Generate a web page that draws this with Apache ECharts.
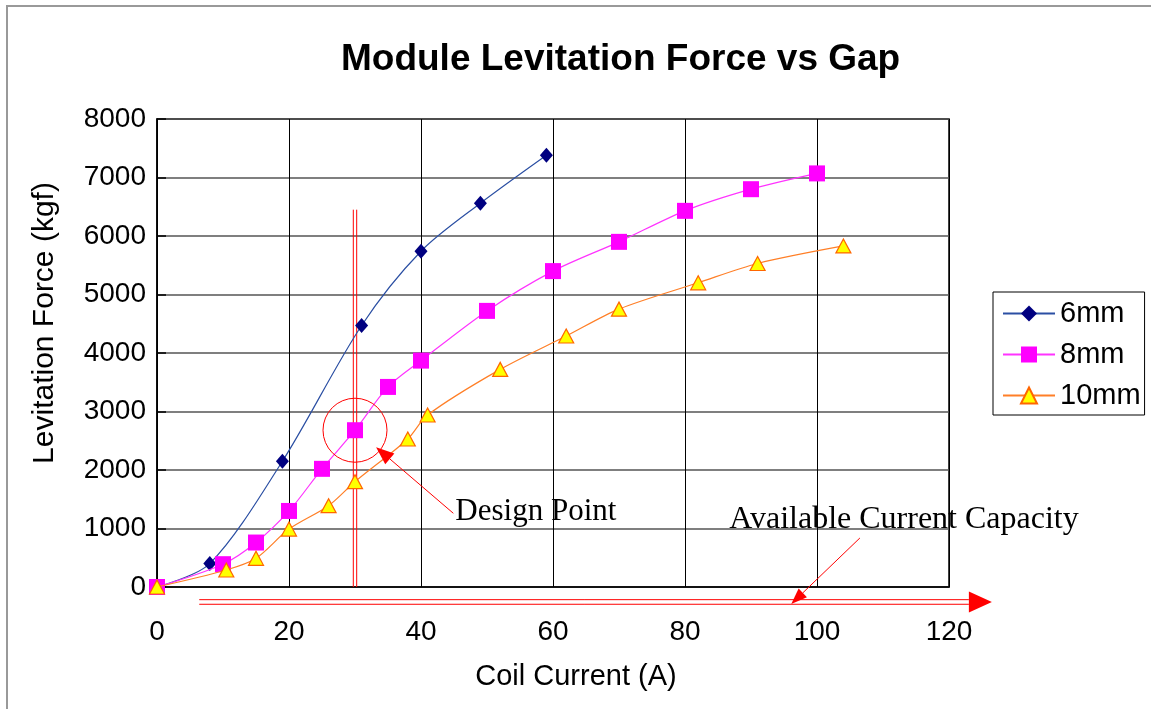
<!DOCTYPE html>
<html>
<head>
<meta charset="utf-8">
<script src="https://cdn.jsdelivr.net/npm/echarts@6/dist/echarts.min.js"></script>
<style>
html,body{margin:0;padding:0;background:#fff;}
#chart{width:1151px;height:709px;}
</style>
</head>
<body>
<div id="chart"></div>
<script>
// ---- data ----
const seriesNames = ['6mm', '8mm', '10mm'];
const current6 = [0, 8, 19, 31, 40, 49, 59];
const force6   = [0, 400, 2150, 4470, 5740, 6560, 7380];
const current8 = [0, 10, 15, 20, 25, 30, 35, 40, 50, 60, 70, 80, 90, 100];
const force8   = [0, 390, 760, 1300, 2020, 2680, 3420, 3870, 4720, 5400, 5900, 6430, 6800, 7070];
const current10 = [0, 10.5, 15, 20, 26, 30, 38, 41, 52, 62, 70, 82, 91, 104];
const force10   = [0, 290, 490, 990, 1390, 1800, 2530, 2940, 3720, 4290, 4750, 5200, 5530, 5830];
const xTicks = [0, 20, 40, 60, 80, 100, 120];
const yTicks = [0, 1000, 2000, 3000, 4000, 5000, 6000, 7000, 8000];
// annotations (data units)
const designPoint = [30, 2680];
const designLineTop = 6450;
const designArrowFrom = [44.9, 1260];
const designArrowTo = [33.2, 2390];
const designLabelPos = [45.2, 1282];
const capacityLineY = -256;
const capacityLineX = [6.4, 126.5];
const capacityArrowFrom = [106.5, 838];
const capacityArrowTo = [96.1, -290];
const capacityLabelPos = [86.7, 1145];

const pairs = (xs, ys) => xs.map((x, i) => [x, ys[i]]);

const chart = echarts.init(document.getElementById('chart'));
const AX = 'Liberation Sans, Arial, sans-serif';
const SERIF = 'Liberation Serif, Times New Roman, serif';
const option = {
  animation: false,
  backgroundColor: '#fff',
  title: {
    text: 'Module Levitation Force vs Gap',
    left: 336, top: 36,
    textStyle: { fontFamily: AX, fontSize: 37, fontWeight: 'bold', color: '#000' }
  },
  grid: { left: 157, right: 202, top: 119, bottom: 122, containLabel: false, outerBoundsMode: 'none',
          show: true, borderColor: '#000', borderWidth: 1.5 },
  legend: {
    orient: 'vertical', left: 993, top: 292,
    padding: [7, 4, 5, 9],
    borderColor: '#000', borderWidth: 1,
    itemWidth: 52, itemHeight: 20, itemGap: 12,
    textStyle: { fontFamily: AX, fontSize: 29, color: '#000', lineHeight: 28 },
    data: seriesNames
  },
  xAxis: {
    type: 'value', min: xTicks[0], max: xTicks[xTicks.length - 1], interval: 20,
    name: 'Coil Current (A)', nameLocation: 'middle', nameGap: 75,
    nameTextStyle: { fontFamily: AX, fontSize: 29, color: '#000', padding: [0, 0, 0, 46] },
    axisLine: { show: true, lineStyle: { color: '#000', width: 1.5 } },
    axisTick: { show: false },
    axisLabel: { margin: 31, fontFamily: AX, fontSize: 28, color: '#000' },
    splitLine: { show: true, lineStyle: { color: '#000', width: 1 } }
  },
  yAxis: {
    type: 'value', min: yTicks[0], max: yTicks[yTicks.length - 1], interval: 1000,
    name: 'Levitation Force (kgf)', nameLocation: 'middle', nameGap: 97,
    nameTextStyle: { fontFamily: AX, fontSize: 30, color: '#000', padding: [0, 0, 0, 60] },
    axisLine: { show: true, lineStyle: { color: '#000', width: 1.5 } },
    axisTick: { show: true, inside: true, length: 9, lineStyle: { color: '#000', width: 1.5 } },
    axisLabel: { margin: 11, fontFamily: AX, fontSize: 28, color: '#000', formatter: v => String(v) },
    splitLine: { show: true, lineStyle: { color: '#555', width: 1.5 } }
  },
  series: [
    {
      name: seriesNames[0], type: 'line', data: pairs(current6, force6), smooth: 0.3,
      symbol: 'diamond', symbolSize: [13, 15],
      itemStyle: { color: '#000080' },
      lineStyle: { color: '#2b4fa3', width: 1.2 }, z: 3
    },
    {
      name: seriesNames[1], type: 'line', data: pairs(current8, force8), smooth: 0.3,
      symbol: 'rect', symbolSize: 16,
      itemStyle: { color: '#ff00ff' },
      lineStyle: { color: '#ff33ff', width: 1.2 }, z: 4
    },
    {
      name: seriesNames[2], type: 'line', data: pairs(current10, force10), smooth: 0.3,
      symbol: 'triangle', symbolSize: [15, 14],
      itemStyle: { color: '#ffff00', borderColor: '#ff6600', borderWidth: 1.2 },
      lineStyle: { color: '#ff7f27', width: 1.2 }, z: 5
    }
  ]
};
chart.setOption(option);

function px(p) { return chart.convertToPixel({ gridIndex: 0 }, p); }
function arrowHead(tip, from, len, half) {
  const dx = tip[0] - from[0], dy = tip[1] - from[1];
  const L = Math.hypot(dx, dy); const ux = dx / L, uy = dy / L;
  const bx = tip[0] - ux * len, by = tip[1] - uy * len;
  return [[tip[0], tip[1]], [bx - uy * half, by + ux * half], [bx + uy * half, by - ux * half]];
}
const RED = '#ff0000';
const g = [];
// design vertical double line
const vTop = px([designPoint[0], designLineTop]);
const vBot = px([designPoint[0], 0]);
[-1.7, 1.7].forEach(o => g.push({ type: 'line', z: 1, shape: { x1: vTop[0] + o, y1: vTop[1], x2: vBot[0] + o, y2: vBot[1] }, style: { stroke: RED, lineWidth: 1 } }));
// circle
const c = px(designPoint);
g.push({ type: 'circle', z: 10, shape: { cx: c[0], cy: c[1], r: 32 }, style: { fill: null, stroke: RED, lineWidth: 1 } });
// design arrow
const daF = px(designArrowFrom), daT = px(designArrowTo);
const dh = arrowHead(daT, daF, 18, 7);
g.push({ type: 'line', z: 10, shape: { x1: daF[0], y1: daF[1], x2: (dh[1][0] + dh[2][0]) / 2, y2: (dh[1][1] + dh[2][1]) / 2 }, style: { stroke: RED, lineWidth: 1 } });
g.push({ type: 'polygon', z: 10, shape: { points: dh }, style: { fill: RED } });
// design label
const dl = px(designLabelPos);
g.push({ type: 'text', z: 10, x: dl[0], y: dl[1], style: { text: 'Design Point', fontFamily: SERIF, fontSize: 31, fill: '#000', textVerticalAlign: 'middle', verticalAlign: 'middle' } });
// capacity horizontal double line with arrow
const hL = px([capacityLineX[0], capacityLineY]);
const hR = px([capacityLineX[1], capacityLineY]);
const headLen = 23;
[-2.3, 2.3].forEach(o => g.push({ type: 'line', z: 10, shape: { x1: hL[0], y1: hL[1] + o, x2: hR[0] - headLen, y2: hR[1] + o }, style: { stroke: RED, lineWidth: 1 } }));
g.push({ type: 'polygon', z: 10, shape: { points: [[hR[0], hR[1]], [hR[0] - headLen, hR[1] - 10.5], [hR[0] - headLen, hR[1] + 10.5]] }, style: { fill: RED } });
// capacity arrow
const caF = px(capacityArrowFrom), caT = px(capacityArrowTo);
const ch = arrowHead(caT, caF, 16, 6);
g.push({ type: 'line', z: 10, shape: { x1: caF[0], y1: caF[1], x2: (ch[1][0] + ch[2][0]) / 2, y2: (ch[1][1] + ch[2][1]) / 2 }, style: { stroke: RED, lineWidth: 1 } });
g.push({ type: 'polygon', z: 10, shape: { points: ch }, style: { fill: RED } });
// capacity label
const cl = px(capacityLabelPos);
g.push({ type: 'text', z: 10, x: cl[0], y: cl[1], style: { text: 'Available Current Capacity', fontFamily: SERIF, fontSize: 32, fill: '#000', textVerticalAlign: 'middle', verticalAlign: 'middle' } });
// outer chart border
g.push({ type: 'rect', z: 0, shape: { x: 7, y: 6, width: 1160, height: 720 }, style: { fill: null, stroke: '#999', lineWidth: 2 } });
chart.setOption({ graphic: g });
</script>
</body>
</html>
